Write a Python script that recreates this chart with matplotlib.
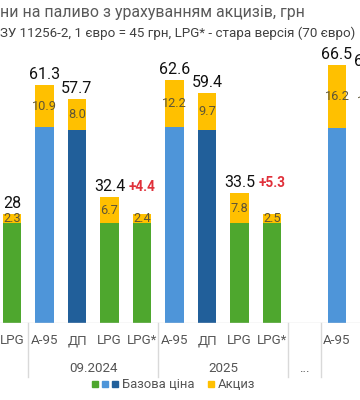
import matplotlib
matplotlib.use("Agg")
import matplotlib.pyplot as plt
from matplotlib.patches import Rectangle

plt.rcParams["font.family"] = ["Roboto", "DejaVu Sans"]

# categories (left to right); "" is the empty "..." slot, last one is cut off
labels = ["LPG", "A-95", "ДП", "LPG", "LPG*", "A-95", "ДП", "LPG", "LPG*", "", "A-95", ""]
kinds = ["lpg", "a95", "dp", "lpg", "lpg", "a95", "dp", "lpg", "lpg", None, "a95", "dp"]
base = [25.7, 50.4, 49.7, 25.7, 25.7, 50.4, 49.7, 25.7, 25.7, 0, 50.3, 49.7]
excise = [2.3, 10.9, 8.0, 6.7, 2.4, 12.2, 9.7, 7.8, 2.5, 0, 16.2, 15.0]
totals = ["28", "61.3", "57.7", "32.4", "", "62.6", "59.4", "33.5", "", "", "66.5", "64.7"]
diffs = {4: "+4.4", 8: "+5.3"}  # shown above LPG* at the LPG total height
groups = [("09.2024", 1, 4), ("2025", 5, 8), ("...", 9, 9)]
dividers = [0.5, 4.5, 8.5, 9.5]

colors = {"lpg": "#4ea72e", "a95": "#4e95d9", "dp": "#215f9a", None: "none"}
yellow = "#ffc000"

fig = plt.figure(figsize=(3.6, 4), dpi=100)
ax = fig.add_axes([-4.25 / 360, 77 / 400, 390 / 360, 283.2 / 400])
ax.set_xlim(-0.5, 11.5)
ax.set_ylim(0, 73)
ax.axis("off")

x = list(range(len(labels)))
w = 0.57
ax.bar(x, base, width=w, color=[colors[k] for k in kinds])
ax.bar(x, excise, bottom=base, width=w, color=[yellow if e else "none" for e in excise])

ax.axhline(0, color="#d9d9d9", lw=1)

for i in x:
    top = base[i] + excise[i]
    if excise[i]:
        ax.text(i, base[i] + excise[i] / 2, f"{excise[i]:.1f}", ha="center", va="center",
                fontsize=9.2, color="#5e5536")
    if totals[i]:
        ax.annotate(totals[i], (i, top), xytext=(0, 7.5), textcoords="offset points",
                    ha="center", va="center", fontsize=11.5, color="#111111")
for i, d in diffs.items():
    ax.annotate(d, (i, base[i - 1] + excise[i - 1]), xytext=(0, 7.5), textcoords="offset points",
                ha="center", va="center", fontsize=9.8, color="#e0303a", fontweight="bold")

# category and group labels below the axis
tr = ax.get_xaxis_transform()
def ay(py):
    return (323 - py) / 283.2

for i in x:
    if labels[i]:
        ax.text(i, ay(341), labels[i], transform=tr, ha="center", va="center",
                fontsize=9.6, color="#555555")
for name, a, b in groups:
    ax.text((a + b) / 2, ay(368), name, transform=tr, ha="center", va="center",
            fontsize=9.6, color="#555555")
for d in dividers:
    ax.plot([d, d], [0, ay(377)], transform=tr, color="#d9d9d9", lw=1, clip_on=False)

# titles
fig.text(0, 1 - 13 / 400, "ни на паливо з урахуванням акцизів, грн", ha="left", va="center",
         fontsize=11.4, color="#595959")
fig.text(0, 1 - 33 / 400, "ЗУ 11256-2, 1 євро = 45 грн, LPG* - стара версія (70 євро)",
         ha="left", va="center", fontsize=9.6, color="#404040")

# legend
ly = 1 - 384 / 400
sq = 6
for px, c in [(92, colors["lpg"]), (102, colors["a95"]), (112, colors["dp"]), (208, yellow)]:
    fig.add_artist(Rectangle((px / 360, ly - sq / 2 / 400), sq / 360, sq / 400,
                             transform=fig.transFigure, color=c))
fig.text(122 / 360, ly, "Базова ціна", ha="left", va="center", fontsize=9.4, color="#555555")
fig.text(218 / 360, ly, "Акциз", ha="left", va="center", fontsize=9.4, color="#555555")

fig.savefig("out.png", dpi=100)
